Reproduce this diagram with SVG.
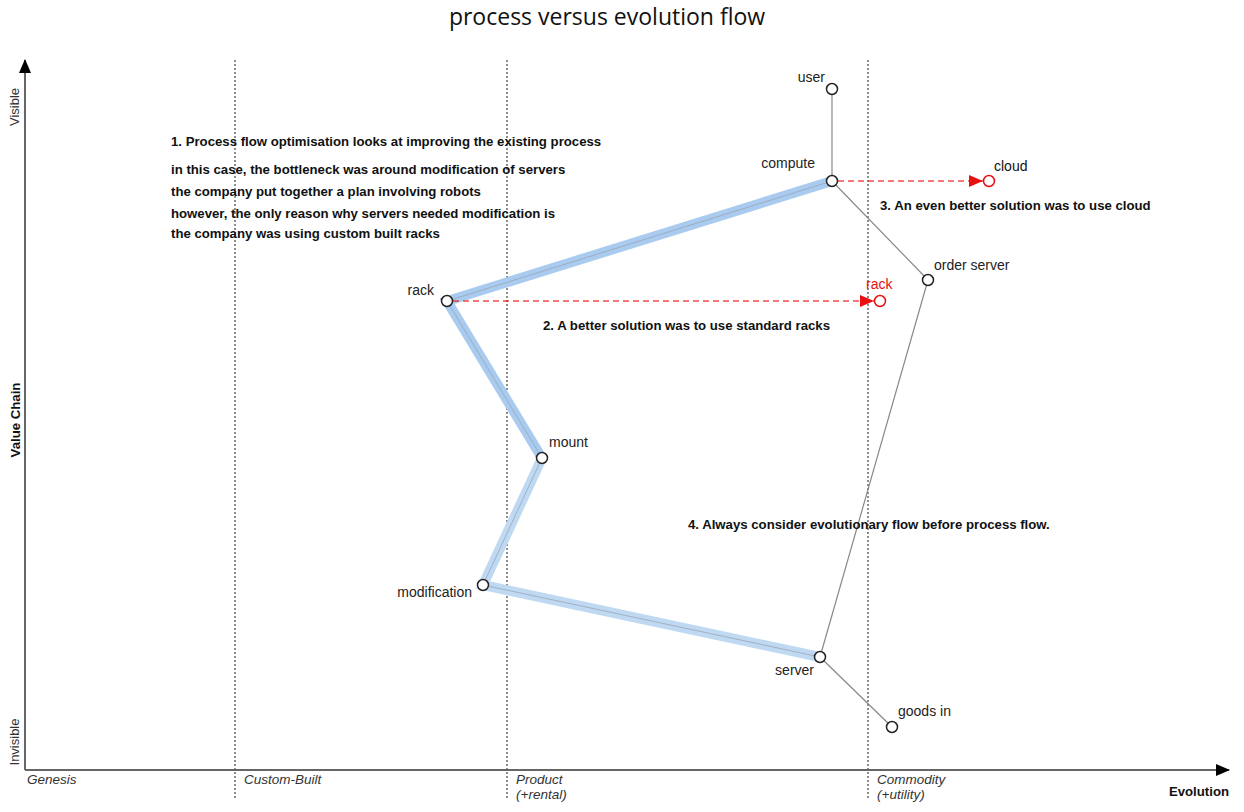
<svg xmlns="http://www.w3.org/2000/svg" width="1244" height="812" viewBox="0 0 1244 812">
<style>
text{font-family:"Liberation Sans",Arial,sans-serif;font-size:14px;fill:#222}
.b{font-weight:bold;fill:#111;font-size:13.2px}
.i{font-style:italic;fill:#333;font-size:13.5px}
.red{fill:#e81010}
.node{fill:#fff;stroke:#222;stroke-width:1.5}
.rnode{fill:#fff;stroke:#e81010;stroke-width:1.5}
.grid{stroke:#444;stroke-width:1.2;stroke-dasharray:2,2}
.link{stroke:#888;stroke-width:1.2;fill:none}
.pipeA{stroke:#a8cbef;stroke-width:10;stroke-linecap:round;fill:none}
.pipeB{stroke:#bfd9f3;stroke-width:10;stroke-linecap:round;fill:none}
.inner{stroke:#9aa6b5;stroke-width:0.8;fill:none}
.evo{stroke:#e81010;stroke-width:1.3;stroke-dasharray:6,4;fill:none;stroke-opacity:0.75}
</style>
<defs>
<marker id="ah" markerWidth="14" markerHeight="12" refX="13" refY="6" orient="auto" markerUnits="userSpaceOnUse" viewBox="0 0 14 12"><path d="M0,0 L14,6 L0,12 z" fill="#000"/></marker>
<marker id="rh" markerWidth="14" markerHeight="12" refX="14" refY="6" orient="auto" markerUnits="userSpaceOnUse" viewBox="0 0 14 12"><path d="M0,0 L14,6 L0,12 z" fill="#e81010"/></marker>
</defs>
<rect width="1244" height="812" fill="#fff"/>
<text x="607" y="25" text-anchor="middle" style="font-family:'Open Sans','Noto Sans',sans-serif;font-size:23px;fill:#111">process versus evolution flow</text>

<g id="grid">
<line class="grid" x1="235" y1="60" x2="235" y2="800"/>
<line class="grid" x1="507" y1="60" x2="507" y2="800"/>
<line class="grid" x1="868" y1="60" x2="868" y2="800"/>
</g>

<g id="axes">
<line x1="25" y1="770" x2="25" y2="60" stroke="#666" stroke-width="2" marker-end="url(#ah)"/>
<line x1="25" y1="770" x2="1229" y2="770" stroke="#666" stroke-width="2" marker-end="url(#ah)"/>
<text transform="translate(19,107) rotate(-90)" text-anchor="middle" style="fill:#333;font-size:13px">Visible</text>
<text transform="translate(19,742) rotate(-90)" text-anchor="middle" style="fill:#333;font-size:13px">Invisible</text>
<text class="b" transform="translate(20,420) rotate(-90)" text-anchor="middle">Value Chain</text>
<text class="b" x="1229" y="796" text-anchor="end">Evolution</text>
<text class="i" x="27" y="784">Genesis</text>
<text class="i" x="244" y="784">Custom-Built</text>
<text class="i" x="516" y="784">Product</text>
<text class="i" x="516" y="799">(+rental)</text>
<text class="i" x="877" y="784">Commodity</text>
<text class="i" x="877" y="799">(+utility)</text>
</g>

<g id="connectors">
<path class="pipeB" d="M542,458 L483,585 L820,657"/>
<path class="pipeA" d="M832,181 L447,301 L542,458"/>
<path class="inner" d="M832,181 L447,301 L542,458 L483,585 L820,657"/>
<line class="link" x1="832" y1="89" x2="832" y2="181"/>
<line class="link" x1="832" y1="181" x2="928" y2="280"/>
<line class="link" x1="928" y1="280" x2="820" y2="657"/>
<line class="link" x1="820" y1="657" x2="892" y2="727"/>
<line class="evo" x1="838" y1="181" x2="983" y2="181" marker-end="url(#rh)"/>
<line class="evo" x1="453" y1="301" x2="874" y2="301" marker-end="url(#rh)"/>
</g>

<g id="node-user"><circle class="node" cx="832" cy="89" r="5.5"/><text x="825" y="82" text-anchor="end">user</text></g>
<g id="node-compute"><circle class="node" cx="832" cy="181" r="5.5"/><text x="815" y="168" text-anchor="end">compute</text></g>
<g id="node-order-server"><circle class="node" cx="928" cy="280" r="5.5"/><text x="934" y="270">order server</text></g>
<g id="node-rack"><circle class="node" cx="447" cy="301" r="5.5"/><text x="434" y="295" text-anchor="end">rack</text></g>
<g id="node-mount"><circle class="node" cx="542" cy="458" r="5.5"/><text x="549" y="447">mount</text></g>
<g id="node-modification"><circle class="node" cx="483" cy="585" r="5.5"/><text x="472" y="597" text-anchor="end">modification</text></g>
<g id="node-server"><circle class="node" cx="820" cy="657" r="5.5"/><text x="814" y="675" text-anchor="end">server</text></g>
<g id="node-goods-in"><circle class="node" cx="892" cy="727" r="5.5"/><text x="898" y="716">goods in</text></g>
<g id="node-cloud"><circle class="rnode" cx="989" cy="181" r="5.5"/><text x="994" y="171" style="fill:#111">cloud</text></g>
<g id="node-rack-red"><circle class="rnode" cx="880" cy="301" r="5.5"/><text class="red" x="866" y="289">rack</text></g>

<g id="annotations">
<text class="b" x="171" y="146">1. Process flow optimisation looks at improving the existing process</text>
<text class="b" x="171" y="174">in this case, the bottleneck was around modification of servers</text>
<text class="b" x="171" y="196">the company put together a plan involving robots</text>
<text class="b" x="171" y="218">however, the only reason why servers needed modification is</text>
<text class="b" x="171" y="238">the company was using custom built racks</text>
<text class="b" x="543" y="330">2. A better solution was to use standard racks</text>
<text class="b" x="880" y="210">3. An even better solution was to use cloud</text>
<text class="b" x="688" y="529">4. Always consider evolutionary flow before process flow.</text>
</g>
</svg>
